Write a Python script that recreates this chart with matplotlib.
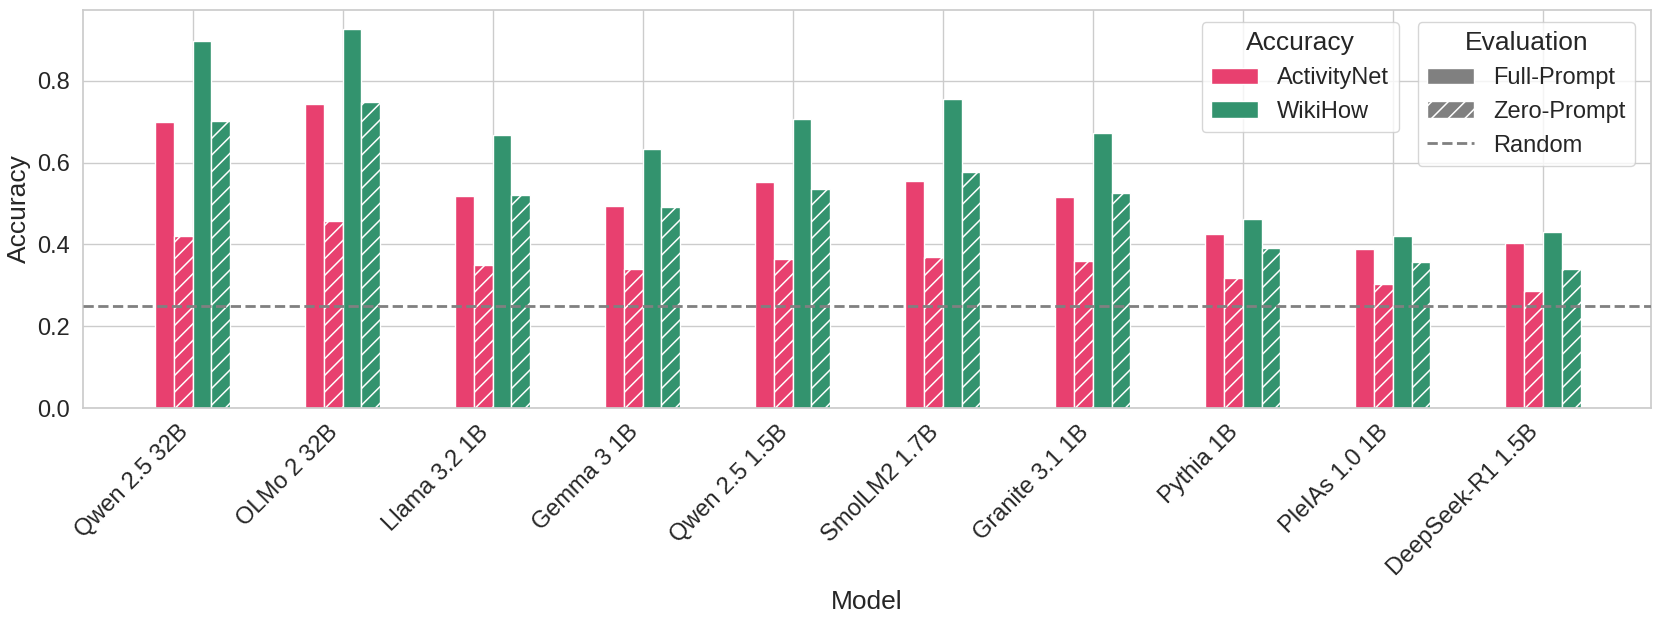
import numpy as np
import matplotlib
matplotlib.use("Agg")
from matplotlib import pyplot as plt
from matplotlib.patches import Patch
from matplotlib.lines import Line2D
import seaborn as sns

# values
models = ["Qwen 2.5 32B", "OLMo 2 32B", "Llama 3.2 1B", "Gemma 3 1B", "Qwen 2.5 1.5B",
          "SmolLM2 1.7B", "Granite 3.1 1B", "Pythia 1B", "PleIAs 1.0 1B", "DeepSeek-R1 1.5B"]
activitynet_full = [0.699, 0.744, 0.518, 0.495, 0.552, 0.555, 0.515, 0.425, 0.389, 0.404]
activitynet_zero = [0.420, 0.458, 0.349, 0.341, 0.364, 0.370, 0.359, 0.319, 0.303, 0.287]
wikihow_full = [0.898, 0.927, 0.667, 0.633, 0.707, 0.755, 0.672, 0.463, 0.420, 0.430]
wikihow_zero = [0.701, 0.749, 0.522, 0.491, 0.535, 0.577, 0.526, 0.392, 0.357, 0.339]
random_baseline = 0.25

pink = "#e8406f"
green = "#33936e"

sns.set_theme(style="whitegrid")
plt.rcParams['font.family'] = ['Liberation Sans', 'DejaVu Sans']
plt.rcParams['hatch.linewidth'] = 1.1

fig = plt.figure(figsize=(16.6, 6.22), dpi=100)
ax = fig.add_axes([0.05, 0.344, 0.9446, 0.64])

x = np.arange(len(models))
w = 0.125
series = [
    (activitynet_full, pink, None),
    (activitynet_zero, pink, "//"),
    (wikihow_full, green, None),
    (wikihow_zero, green, "//"),
]
for i, (vals, col, hatch) in enumerate(series):
    ax.bar(x + (i - 1.5) * w, vals, width=w, color=col, edgecolor="white",
           linewidth=1, hatch=hatch, zorder=2)

ax.axhline(random_baseline, color="gray", linestyle="--", linewidth=2, zorder=3)

ax.set_xlim(-0.73, 9.72)
ax.set_yticks([0.0, 0.2, 0.4, 0.6, 0.8])
ax.set_xticks(x)
ax.set_xticklabels(models, rotation=45, ha="right")
ax.tick_params(axis="both", labelsize=17)
ax.set_xlabel("Model", fontsize=19, labelpad=7)
ax.set_ylabel("Accuracy", fontsize=19)

acc_handles = [Patch(facecolor=pink, edgecolor="white", label="ActivityNet"),
               Patch(facecolor=green, edgecolor="white", label="WikiHow")]
eval_handles = [Patch(facecolor="gray", edgecolor="white", label="Full-Prompt"),
                Patch(facecolor="gray", edgecolor="white", hatch="//", label="Zero-Prompt"),
                Line2D([0], [0], color="gray", linestyle="--", linewidth=2, label="Random")]

leg1 = ax.legend(handles=acc_handles, title="Accuracy", loc="upper right",
                 bbox_to_anchor=(0.839, 0.970), borderaxespad=0, fontsize=17,
                 title_fontsize=19, labelspacing=0.5)
ax.add_artist(leg1)
ax.legend(handles=eval_handles, title="Evaluation", loc="upper right",
          bbox_to_anchor=(0.9898, 0.970), borderaxespad=0, fontsize=17,
          title_fontsize=19, labelspacing=0.5)

fig.savefig("out.png", dpi=100)
